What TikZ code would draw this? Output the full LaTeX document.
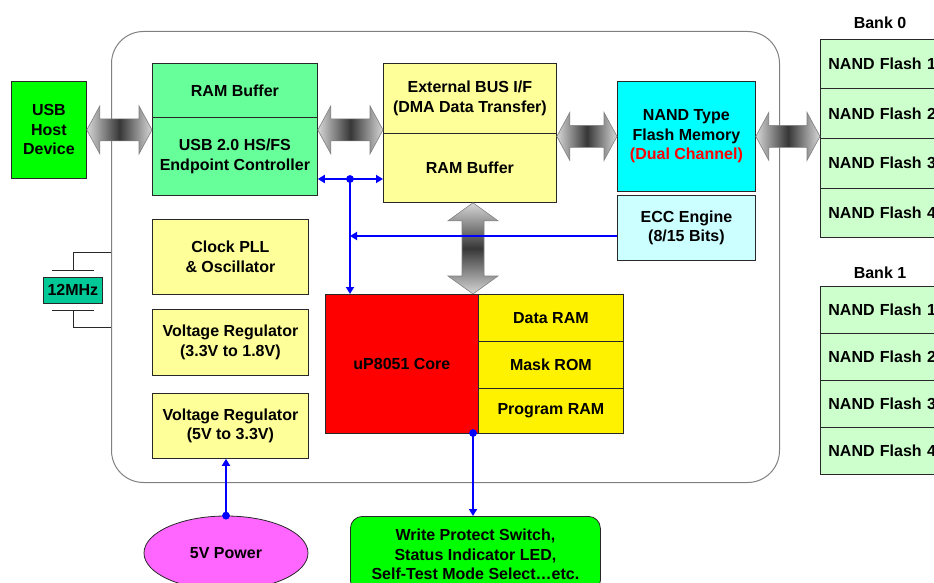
\documentclass[tikz,border=0pt]{standalone}
\usepackage{fontspec}
\setmainfont{Liberation Sans}
\usetikzlibrary{calc,arrows.meta,shapes.geometric}
\definecolor{usbgreen}{RGB}{0,255,0}
\definecolor{ctrlgreen}{RGB}{102,255,153}
\definecolor{lyellow}{RGB}{255,255,153}
\definecolor{nandcyan}{RGB}{0,255,255}
\definecolor{eccblue}{RGB}{204,255,255}
\definecolor{nandgreen}{RGB}{204,255,204}
\definecolor{xtalc}{RGB}{0,200,150}
\definecolor{pwrc}{RGB}{255,102,255}
\definecolor{busl}{RGB}{215,215,215}
\definecolor{busd}{RGB}{55,55,55}
\definecolor{edgec}{RGB}{40,40,40}
\newcommand\hbus[2]{%
  \shadedraw[busarrow, left color=busl, right color=busl, middle color=busd]
    let \p1=(#1), \p2=(#2) in
    (\x1,\y1) -- (\x1+13pt,\y1+24pt) -- (\x1+13pt,\y1+11pt) -- (\x2-13pt,\y1+11pt)
    -- (\x2-13pt,\y1+24pt) -- (\x2,\y1) -- (\x2-13pt,\y1-24pt) -- (\x2-13pt,\y1-11pt)
    -- (\x1+13pt,\y1-11pt) -- (\x1+13pt,\y1-24pt) -- cycle;}
\newcommand\vbus[2]{%
  \shadedraw[busarrow, top color=busl, bottom color=busl, middle color=busd]
    let \p1=(#1), \p2=(#2) in
    (\x1,\y1) -- (\x1+25pt,\y1-18pt) -- (\x1+11pt,\y1-18pt) -- (\x1+11pt,\y2+18pt)
    -- (\x1+25pt,\y2+18pt) -- (\x1,\y2) -- (\x1-25pt,\y2+18pt) -- (\x1-11pt,\y2+18pt)
    -- (\x1-11pt,\y1-18pt) -- (\x1-25pt,\y1-18pt) -- cycle;}
\begin{document}
\begin{tikzpicture}[x=1pt,y=-1pt,
  lbl/.style={font=\fontsize{16}{19.5}\selectfont\bfseries, text=black},
  blk/.style={lbl, draw=edgec, line width=0.8pt, inner sep=0pt, align=center, anchor=north west},
  nand/.style={blk, fill=nandgreen, minimum width=140pt, text width=124pt, inner xsep=8pt, align=left},
  sig/.style={draw=blue, line width=2pt, -{Triangle[length=7pt,width=8pt]}},
  jdot/.style={circle, fill=blue, inner sep=0pt, minimum size=7.5pt},
  busarrow/.style={draw=gray, line width=0.6pt},
  xtl/.style={draw=edgec, line width=0.8pt},
]
\useasboundingbox (0,0) rectangle (934,583);
\clip (0,0) rectangle (934,583);

% chip outline
\node[draw=gray, line width=1pt, rounded corners=32pt, minimum width=668pt, minimum height=451pt,
      anchor=north west, inner sep=0pt] (chip) at (111,31) {};

% crystal
\draw[xtl] (chip.west |- 0,252) -- (73,252) -- (73,270);
\draw[xtl] (52,270) -- (94,270);
\node[blk, fill=xtalc, minimum width=59pt, minimum height=26pt] (xtal) at (43,277) {12MHz};
\draw[xtl] (52,310) -- (94,310);
\draw[xtl] (73,310) -- (73,327) -- (chip.west |- 0,327);

% blocks
\node[blk, fill=usbgreen, minimum width=75pt, minimum height=97pt] (usbhost) at (11,81) {USB\\Host\\Device};
\node[blk, fill=ctrlgreen, minimum width=165pt, minimum height=54pt] (ram1) at (152,63) {RAM Buffer};
\node[blk, fill=ctrlgreen, minimum width=165pt, minimum height=78pt] (ep) at (152,117) {USB 2.0 HS/FS\\Endpoint Controller};
\node[blk, fill=lyellow, minimum width=173pt, minimum height=70pt] (extbus) at (383,63) {External BUS I/F\\(DMA Data Transfer)};
\node[blk, fill=lyellow, minimum width=173pt, minimum height=69pt] (ram2) at (383,133) {RAM Buffer};
\node[blk, fill=nandcyan, minimum width=138pt, minimum height=110pt] (nandt) at (617,81) {NAND Type\\Flash Memory\\\textcolor{red}{(Dual Channel)}};
\node[blk, fill=eccblue, minimum width=138pt, minimum height=65pt] (ecc) at (617,195) {ECC Engine\\(8/15 Bits)};
\node[blk, fill=lyellow, minimum width=156pt, minimum height=75pt] (clk) at (152,219) {Clock PLL\\\& Oscillator};
\node[blk, fill=lyellow, minimum width=156pt, minimum height=66pt] (vr1) at (152,309) {Voltage Regulator\\(3.3V to 1.8V)};
\node[blk, fill=lyellow, minimum width=156pt, minimum height=65pt] (vr2) at (152,393) {Voltage Regulator\\(5V to 3.3V)};
\node[blk, fill=red, minimum width=153pt, minimum height=139pt] (core) at (325,294) {uP8051 Core};
\node[blk, fill=yellow, minimum width=145pt, minimum height=47pt] (dram) at (478,294) {Data RAM};
\node[blk, fill=yellow, minimum width=145pt, minimum height=47pt] (mrom) at (478,341) {Mask ROM};
\node[blk, fill=yellow, minimum width=145pt, minimum height=45pt] (pram) at (478,388) {Program RAM};

% banks
\node[lbl] (bank0) at (880,23) {Bank 0};
\node[nand, minimum height=49.5pt] (b0a) at (820,39) {NAND Flash 1};
\node[nand, minimum height=49.5pt] (b0b) at (820,88.5) {NAND Flash 2};
\node[nand, minimum height=49.5pt] (b0c) at (820,138) {NAND Flash 3};
\node[nand, minimum height=49.5pt] (b0d) at (820,187.5) {NAND Flash 4};
\node[lbl] (bank1) at (880,273) {Bank 1};
\node[nand, minimum height=47pt] (b1a) at (820,286) {NAND Flash 1};
\node[nand, minimum height=47pt] (b1b) at (820,333) {NAND Flash 2};
\node[nand, minimum height=47pt] (b1c) at (820,380) {NAND Flash 3};
\node[nand, minimum height=47pt] (b1d) at (820,427) {NAND Flash 4};

% external
\node[ellipse, draw=edgec, line width=0.8pt, fill=pwrc, lbl, minimum width=164pt, minimum height=74pt, inner sep=0pt] (pwr) at (226,553) {5V Power};
\node[blk, fill=usbgreen, rounded corners=12pt, minimum width=250pt, minimum height=76pt] (wp) at (350,516)
  {Write Protect Switch,\\Status Indicator LED,\\Self-Test Mode Select…etc.};

% gray bus arrows
\hbus{usbhost.east}{usbhost.east -| ram1.west}
\hbus{ep.east |- usbhost.east}{extbus.west |- usbhost.east}
\hbus{extbus.east |- nandt.west}{nandt.west}
\hbus{nandt.east}{nandt.east -| b0a.west}
\coordinate (busx) at (473,0);
\vbus{ram2.south -| busx}{core.north -| busx}

% blue signals
\node[jdot] (j1) at (350,179) {};
\draw[sig, {Triangle[length=7pt,width=8pt]}-{Triangle[length=7pt,width=8pt]}] (ep.east |- j1) -- (ram2.west |- j1);
\draw[sig] (j1.center) -- (j1 |- core.north);
\draw[sig] (ecc.west |- 0,236) -- (j1 |- 0,236);
\node[jdot] (j2) at (473,433) {};
\draw[sig] (j2.center) -- (j2 |- wp.north);
\node[jdot] (j3) at (pwr.north) {};
\draw[sig] (j3.center) -- (j3 |- vr2.south);
\node[jdot] at (j1) {};
\node[jdot] at (j2) {};
\node[jdot] at (j3) {};
\end{tikzpicture}
\end{document}
